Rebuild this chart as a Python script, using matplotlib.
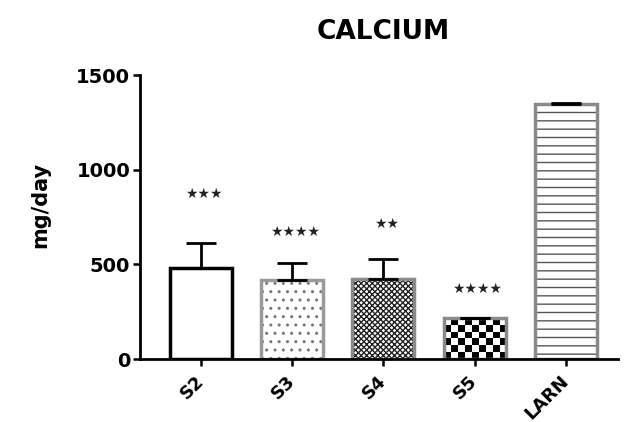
import numpy as np
import matplotlib.pyplot as plt

# values
groups = ["S2", "S3", "S4", "S5", "LARN"]
means = [480, 418, 425, 215, 1350]
sd_up = [135, 90, 105, 4, 4]
stars = ["★★★", "★★★★", "★★", "★★★★", ""]
star_y = [870, 672, 712, 372, 0]

plt.rcParams['font.family'] = ['DejaVu Sans']
plt.rcParams['hatch.linewidth'] = 1.0

fig = plt.figure(figsize=(6.29, 4.22), dpi=100)
ax = fig.add_axes([0.2226, 0.149, 0.76, 0.673])

x = np.arange(len(groups))
edge = ['black', '#9a9a9a', '#8a8a8a', '#8a8a8a', '#8a8a8a']
hatches = [None, '..', 'xxxxxx', None, '--']
hcol = ['black', '#777777', '#222222', 'black', '#555555']

bars = ax.bar(x, means, width=0.68, color='white', edgecolor=edge,
              linewidth=2.5, zorder=2)
for b, h, c in zip(bars, hatches, hcol):
    if h:
        b.set_hatch(h)
        b._hatch_color = plt.matplotlib.colors.to_rgba(c)

# coarse checkerboard fill for S5
b5 = bars[3]
chk = np.indices((6, 9)).sum(axis=0) % 2
im = ax.imshow(chk, cmap='gray_r', interpolation='nearest', aspect='auto',
               extent=(b5.get_x(), b5.get_x() + b5.get_width(), 0, b5.get_height()),
               zorder=1.5)
im.set_clip_path(b5)
b5.set_facecolor('none')

ax.errorbar(x, means, yerr=[np.zeros(len(x)), sd_up], fmt='none', ecolor='black',
            elinewidth=2, capsize=11, capthick=2, zorder=3)

for xi, s, sy in zip(x, stars, star_y):
    if s:
        ax.text(xi + 0.03, sy, s, ha='center', va='center', fontsize=10,
                color='#222222')

ax.set_xlim(-0.667, 4.57)
ax.set_ylim(0, 1500)
ax.set_yticks([0, 500, 1000, 1500])
ax.set_xticks(x)
ax.set_xticklabels(groups, rotation=45, ha='right', va='center',
                   rotation_mode='anchor', fontsize=13, fontweight='bold')
for lab in ax.get_yticklabels():
    lab.set_fontweight('bold')
    lab.set_fontsize(14)
ax.tick_params(axis='both', width=1.8, length=5, direction='out', pad=2)
ax.tick_params(axis='x', pad=9)
ax.spines['top'].set_visible(False)
ax.spines['right'].set_visible(False)
ax.spines['left'].set_linewidth(2)
ax.spines['bottom'].set_linewidth(2)
ax.set_ylabel('mg/day', fontsize=15, fontweight='bold')
ax.yaxis.set_label_coords(-0.188, 0.542)
ax.set_title('CALCIUM', fontsize=19, fontweight='bold', pad=26, x=0.508)

fig.savefig('out.png', dpi=100)
